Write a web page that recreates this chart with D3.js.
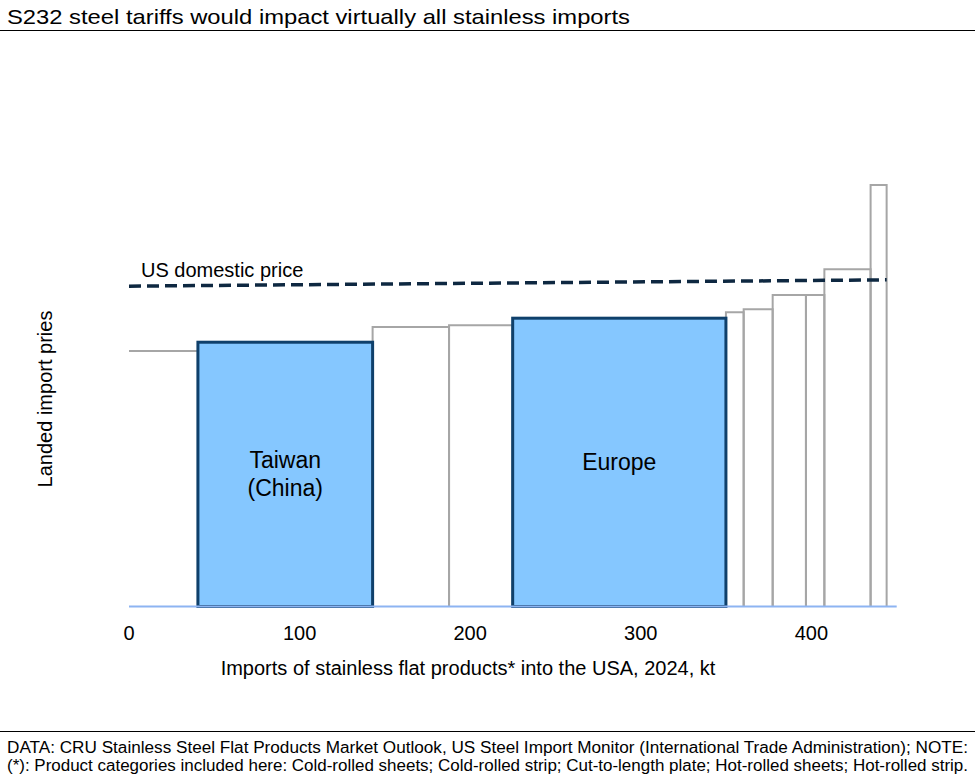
<!DOCTYPE html>
<html>
<head>
<meta charset="utf-8">
<script src="https://cdn.jsdelivr.net/npm/d3@7"></script>
<style>
  body { margin: 0; background: #fff; }
  text { font-family: "Liberation Sans", Arial, sans-serif; fill: #000; }
</style>
</head>
<body>
<svg id="chart" width="975" height="777"></svg>
<script>
// import volumes (kt) and relative landed price, ordered by price
const suppliers = ['Other 1', 'Taiwan (China)', 'Other 2', 'Other 3', 'Europe', 'Other 4',
  'Other 5', 'Other 6', 'Other 7', 'Other 8', 'Other 9']
const volumes = [40.4, 102.4, 44.8, 37.3, 125.0, 10.4, 17.0, 19.5, 10.8, 27.1, 9.4]
const prices = [60.6, 62.7, 66.3, 66.7, 68.4, 69.8, 70.5, 73.9, 73.9, 80.0, 100]
const highlighted = ['Taiwan (China)', 'Europe']
const barLabels = { 'Taiwan (China)': ['Taiwan', '(China)'], 'Europe': ['Europe'] }

// US domestic price, start and end of the dashed line
const domesticPrice = [76.0, 77.5]
const xTicks = [0, 100, 200, 300, 400]

const svg = d3.select('#chart')
const W = 975

const x = d3.scaleLinear().domain([0, 450]).range([129, 896.7])
const y = d3.scaleLinear().domain([0, 100]).range([606.5, 185])

// stack the bars one after another along x
let cum = 0
const bars = suppliers.map((s, i) => {
  const d = { name: s, x0: cum, x1: cum + volumes[i], p: prices[i] }
  cum += volumes[i]
  return d
})

/**
 * Title
 */
svg.append('text')
  .attr('x', 7).attr('y', 24)
  .attr('font-size', 21)
  .attr('textLength', 623).attr('lengthAdjust', 'spacingAndGlyphs')
  .text('S232 steel tariffs would impact virtually all stainless imports')
svg.append('line')
  .attr('x1', 0).attr('x2', W).attr('y1', 30.5).attr('y2', 30.5)
  .attr('stroke', '#000').attr('stroke-width', 1)

const plot = svg.append('g')

// grey bars first, highlighted ones on top
const others = bars.filter((d) => !highlighted.includes(d.name))
const hi = bars.filter((d) => highlighted.includes(d.name))

// first bar has no left edge, drawn as a step only
plot.selectAll('.grey')
  .data(others)
  .enter()
  .append('path')
  .classed('grey', true)
  .attr('d', (d) => {
    const l = x(d.x0), r = x(d.x1), t = y(d.p), b = y(0)
    if (d.x0 === 0) return `M${l},${t}H${r}V${b}`
    return `M${l},${b}V${t}H${r}V${b}`
  })
  .attr('fill', 'none')
  .attr('stroke', '#a6a6a6')
  .attr('stroke-width', 2)

plot.selectAll('.hi')
  .data(hi)
  .enter()
  .append('rect')
  .classed('hi', true)
  .attr('x', (d) => x(d.x0))
  .attr('y', (d) => y(d.p))
  .attr('width', (d) => x(d.x1) - x(d.x0))
  .attr('height', (d) => y(0) - y(d.p))
  .attr('fill', '#85c7ff')
  .attr('stroke', '#0f406b')
  .attr('stroke-width', 3)

// labels inside highlighted bars
hi.forEach((d) => {
  const lines = barLabels[d.name]
  const cx = (x(d.x0) + x(d.x1)) / 2
  const t = plot.append('text')
    .attr('text-anchor', 'middle')
    .attr('font-size', 23)
  lines.forEach((ln, i) => {
    t.append('tspan')
      .attr('x', cx)
      .attr('y', (lines.length > 1 ? 468 : 470) + i * 28)
      .text(ln)
  })
})

// x axis line
plot.append('line')
  .attr('x1', x(0)).attr('x2', x(450))
  .attr('y1', y(0)).attr('y2', y(0))
  .attr('stroke', '#8db4f2')
  .attr('stroke-width', 2)

// domestic price
plot.append('line')
  .attr('x1', x(0)).attr('x2', x(cum))
  .attr('y1', y(domesticPrice[0])).attr('y2', y(domesticPrice[1]))
  .attr('stroke', '#0e2841')
  .attr('stroke-width', 3.5)
  .attr('stroke-dasharray', '12,6')
svg.append('text')
  .attr('x', 141).attr('y', 277)
  .attr('font-size', 20)
  .text('US domestic price')

// tick labels
svg.selectAll('.tick-label')
  .data(xTicks)
  .enter()
  .append('text')
  .classed('tick-label', true)
  .attr('x', (d) => x(d))
  .attr('y', 640)
  .attr('text-anchor', 'middle')
  .attr('font-size', 20)
  .text((d) => d)

svg.append('text')
  .attr('x', 468).attr('y', 675)
  .attr('text-anchor', 'middle')
  .attr('font-size', 20)
  .text('Imports of stainless flat products* into the USA, 2024, kt')

svg.append('text')
  .attr('transform', 'translate(52,399) rotate(-90)')
  .attr('text-anchor', 'middle')
  .attr('font-size', 20)
  .text('Landed import pries')

/**
 * Footer
 */
svg.append('line')
  .attr('x1', 0).attr('x2', W).attr('y1', 731.5).attr('y2', 731.5)
  .attr('stroke', '#000').attr('stroke-width', 1)

const notes = [
  'DATA: CRU Stainless Steel Flat Products Market Outlook, US Steel Import Monitor (International Trade Administration); NOTE:',
  '(*): Product categories included here: Cold-rolled sheets; Cold-rolled strip; Cut-to-length plate; Hot-rolled sheets; Hot-rolled strip.'
]
svg.selectAll('.note')
  .data(notes)
  .enter()
  .append('text')
  .classed('note', true)
  .attr('x', 7)
  .attr('y', (d, i) => 753 + i * 18)
  .attr('font-size', 16)
  .attr('fill', '#222')
  .attr('textLength', 961)
  .attr('lengthAdjust', 'spacingAndGlyphs')
  .text((d) => d)
</script>
</body>
</html>
